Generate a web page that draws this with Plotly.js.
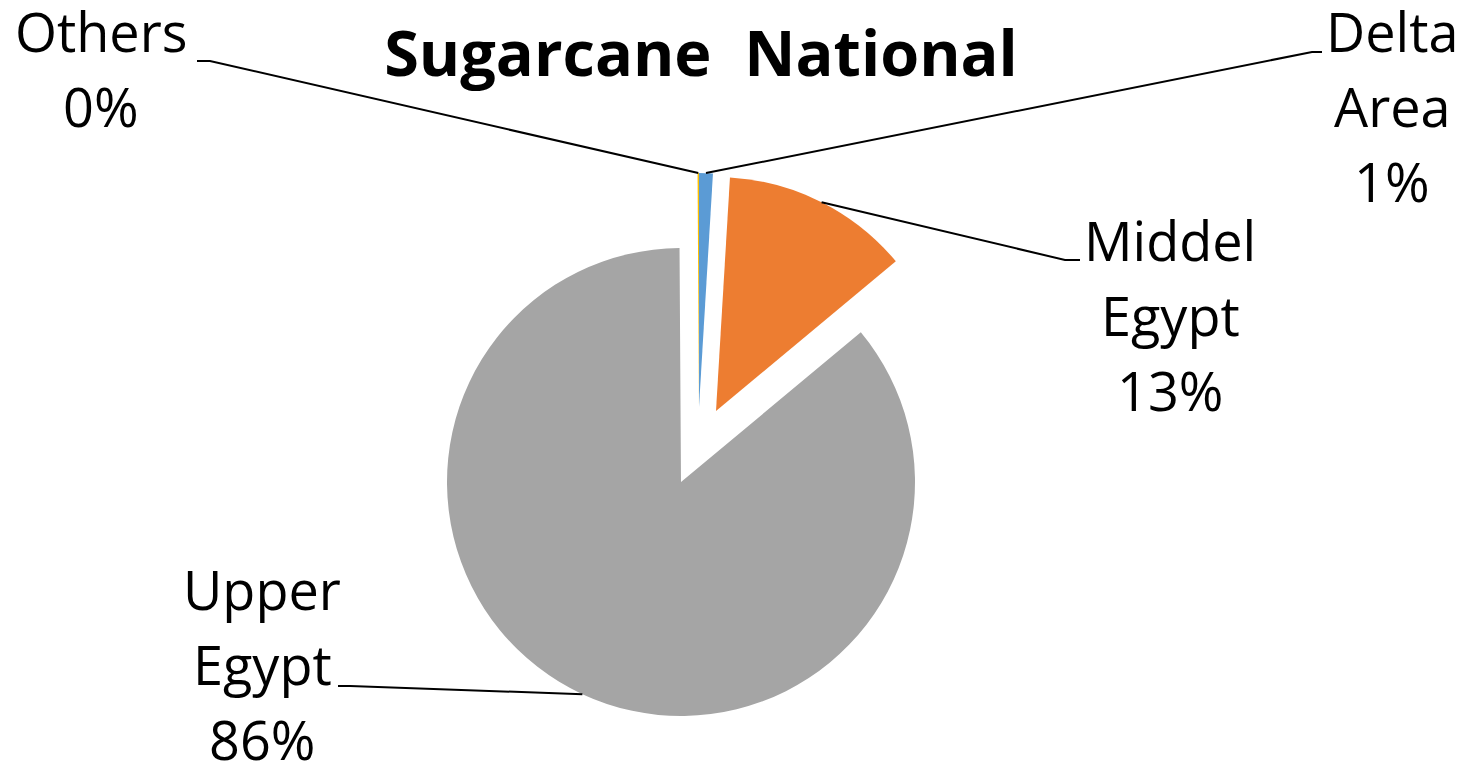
<!DOCTYPE html>
<html><head><meta charset="utf-8">
<script src="https://cdn.plot.ly/plotly-3.0.1.min.js"></script>
<style>html,body{margin:0;padding:0;background:#fff;overflow:hidden}</style>
</head><body>
<div id="chart" style="width:1472px;height:773px"></div>
<script>
// ---- data ----
const categories = ["Delta Area", "Middel Egypt", "Upper Egypt", "Others"];
const values = [0.95, 13.0, 85.95, 0.1];
const colors = ["#5B9BD5", "#ED7D31", "#A5A5A5", "#FFC000"];
const titleText = "Sugarcane\u00A0 National";

// ---- layout / style ----
const W = 1472, H = 773;
const CX = 681, CY = 482, R = 234;            // pie centre and radius (px)
const explode = [[18, -75], [35, -71], [0, 0], [18, -75]]; // slice offsets (px)
const labelStyle = [
  {x: 1392, y: 51,  elbow: [1312, 52],  end: [1322, 52]},
  {x: 1170, y: 260, elbow: [1065, 260], end: [1080, 260]},
  {x: 262,  y: 609, elbow: [350, 686],  end: [338, 686]},
  {x: 101,  y: 51,  elbow: [210, 61],   end: [197, 61]}
];
const LS = 75;            // line spacing of labels (px)
const FONT = "Open Sans";

const total = values.reduce((a, b) => a + b, 0);
const px = x => x / W, py = y => 1 - y / H;

const traces = [];
const annotations = [];
const shapes = [];
let cum = 0;
categories.forEach((cat, i) => {
  const [dx, dy] = explode[i];
  const cx = CX + dx, cy = CY + dy;
  traces.push({
    type: "pie",
    labels: categories,
    values: values,
    sort: false,
    direction: "clockwise",
    rotation: 0,
    marker: {colors: colors.map((c, j) => j === i ? c : "rgba(0,0,0,0)"), line: {width: 0}},
    textinfo: "none",
    hoverinfo: "skip",
    showlegend: false,
    domain: {x: [px(cx - R), px(cx + R)], y: [py(cy + R), py(cy - R)]}
  });
  // mid-angle of slice
  const a0 = cum / total * 2 * Math.PI;
  cum += values[i];
  const a1 = cum / total * 2 * Math.PI;
  const am = (a0 + a1) / 2;
  const sx = cx + R * Math.sin(am), sy = cy - R * Math.cos(am);
  const L = labelStyle[i];
  shapes.push({
    type: "path", xref: "paper", yref: "paper",
    path: `M ${px(sx)} ${py(sy)} L ${px(L.elbow[0])} ${py(L.elbow[1])} L ${px(L.end[0])} ${py(L.end[1])}`,
    line: {color: "#000", width: 2}
  });
  const pct = Math.round(values[i] / total * 100) + "%";
  const lines = cat.split(" ").concat([pct]);
  lines.forEach((t, k) => {
    annotations.push({
      x: px(L.x), y: py(L.y + k * LS - 20), xref: "paper", yref: "paper",
      xanchor: "center", yanchor: "middle", showarrow: false,
      text: t, font: {family: FONT, size: 54, color: "#000"}
    });
  });
});

const layout = {
  width: W, height: H,
  margin: {l: 0, r: 0, t: 0, b: 0},
  paper_bgcolor: "#fff", plot_bgcolor: "#fff",
  title: {
    text: titleText, x: 701 / W, xanchor: "center", xref: "container",
    y: 1 - 54 / H, yanchor: "middle", yref: "container",
    font: {family: FONT, size: 63, color: "#000", weight: "bold"}
  },
  annotations: annotations,
  shapes: shapes,
  showlegend: false
};
Plotly.newPlot("chart", traces, layout, {displayModeBar: false, staticPlot: true});
</script>
</body></html>
